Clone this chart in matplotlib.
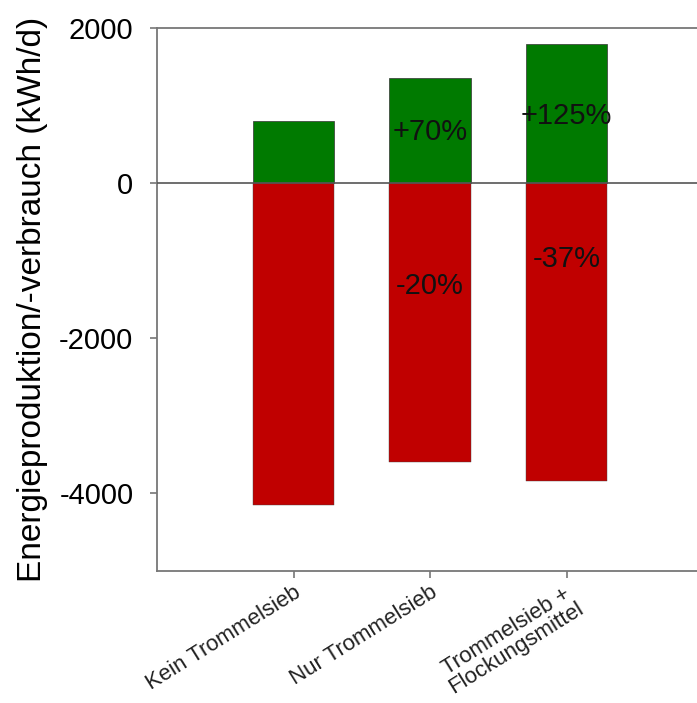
import matplotlib
matplotlib.use("Agg")
import matplotlib.pyplot as plt

categories = ["Kein Trommelsieb", "Nur Trommelsieb", "Trommelsieb +\nFlockungsmittel"]
production = [800, 1350, 1800]
consumption = [-4150, -3600, -3850]
prod_labels = ["", "+70%", "+125%"]
cons_labels = ["", "-20%", "-37%"]
prod_label_y = [0, 660, 860]
cons_label_y = [0, -1330, -980]

plt.rcParams['font.family'] = ['Liberation Sans', 'DejaVu Sans']

fig = plt.figure(figsize=(6.97, 7.03), dpi=100)
ax = fig.add_axes([157/697, 132.5/703, 546/697, 542.5/703])

x = [1, 2, 3]
ax.bar(x, production, width=0.6, color="#007A00", edgecolor="#333333", linewidth=0.5, zorder=2)
ax.bar(x, consumption, width=0.6, color="#C00000", edgecolor="#444444", linewidth=0.3, zorder=2)
ax.axhline(0, color="#555555", linewidth=1.2, zorder=3)

for xi, lab, yy in zip(x, prod_labels, prod_label_y):
    if lab:
        ax.text(xi, yy, lab, ha="center", va="center", fontsize=21, color="#111111", zorder=4)
for xi, lab, yy in zip(x, cons_labels, cons_label_y):
    if lab:
        ax.text(xi, yy, lab, ha="center", va="center", fontsize=21, color="#111111", zorder=4)

ax.set_xlim(0, 4)
ax.set_ylim(-5000, 2000)
ax.set_yticks([-4000, -2000, 0, 2000])
ax.set_yticklabels(["-4000", "-2000", "0", "2000"], fontsize=21)
ax.set_xticks(x)
ax.set_xticklabels(categories, fontsize=16, rotation=32, ha="right", va="top",
                   rotation_mode="anchor", multialignment="center", color="#222222",
                   linespacing=0.9)
ax.set_ylabel("Energieproduktion/-verbrauch (kWh/d)", fontsize=24, labelpad=8)

for s in ["left", "bottom", "top", "right"]:
    ax.spines[s].set_color("#777777")
    ax.spines[s].set_linewidth(1.3)
ax.tick_params(axis="both", direction="out", length=5, width=1.2, color="#777777")
ax.tick_params(axis="y", pad=12)
ax.tick_params(axis="x", pad=3)

fig.savefig("out.png", dpi=100)
